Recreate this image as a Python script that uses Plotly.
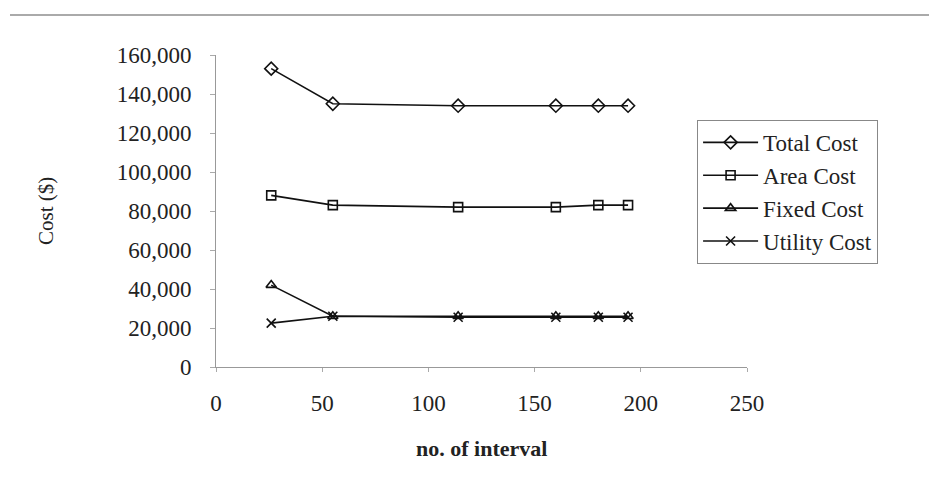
import plotly.graph_objects as go

intervals = [26, 55, 114, 160, 180, 194]
total_cost = [153000, 135000, 134000, 134000, 134000, 134000]
area_cost = [88000, 83000, 82000, 82000, 83000, 83000]
fixed_cost = [42000, 26000, 26000, 26000, 26000, 26000]
utility_cost = [22500, 26000, 25500, 25500, 25500, 25500]

series = [
    ("Total Cost", total_cost, "diamond-open", 10),
    ("Area Cost", area_cost, "square-open", 9),
    ("Fixed Cost", fixed_cost, "triangle-up-open", 9),
    ("Utility Cost", utility_cost, "x-thin-open", 9),
]

FONT = "Liberation Serif"

fig = go.Figure()
for name, vals, sym, sz in series:
    fig.add_trace(go.Scatter(
        x=intervals, y=vals, name=name, mode="lines+markers",
        line=dict(color="#111111", width=1.6),
        marker=dict(symbol=sym, size=sz, color="#111111",
                    line=dict(color="#111111", width=1.6)),
    ))

fig.update_layout(
    width=929, height=483,
    margin=dict(l=216, r=182, t=55, b=116),
    paper_bgcolor="white", plot_bgcolor="white",
    font=dict(family=FONT, color="#222222", size=22),
    showlegend=True,
    legend=dict(
        x=0.906, y=0.792, xanchor="left", yanchor="top",
        bordercolor="#888888", borderwidth=1, bgcolor="white",
        font=dict(family=FONT, size=23, color="#222222"),
        itemwidth=55, tracegroupgap=0,
    ),
    xaxis=dict(
        range=[0, 250], tickvals=[0, 50, 100, 150, 200, 250],
        showgrid=False, zeroline=False,
        showline=True, linecolor="#999999", linewidth=1,
        ticks="outside", ticklen=4, tickcolor="#aaaaaa",
        ticklabelstandoff=11,
        tickfont=dict(family=FONT, size=23, color="#222222"),
    ),
    yaxis=dict(
        range=[0, 160000], tickvals=list(range(0, 160001, 20000)),
        tickformat=",d",
        showgrid=False, zeroline=False,
        showline=True, linecolor="#999999", linewidth=1,
        ticks="outside", ticklen=5, tickcolor="#aaaaaa",
        ticklabelstandoff=14,
        tickfont=dict(family=FONT, size=23, color="#222222"),
    ),
    annotations=[
        dict(text="Cost ($)", xref="paper", yref="paper",
             x=(46 - 216) / 531, y=0.5, textangle=-90, showarrow=False,
             font=dict(family=FONT, size=21, color="#222222"),
             xanchor="center", yanchor="middle"),
        dict(text="<b>no. of interval</b>", xref="paper", yref="paper",
             x=0.5, y=(367 - 448) / 312, showarrow=False,
             font=dict(family=FONT, size=22, color="#222222"),
             xanchor="center", yanchor="middle"),
    ],
    shapes=[
        dict(type="line", xref="paper", yref="paper",
             x0=(10 - 216) / 531, x1=(929 - 216) / 531,
             y0=(367 - 15) / 312, y1=(367 - 15) / 312,
             line=dict(color="#aaaaaa", width=2)),
    ],
)

fig.write_html("out.html")
